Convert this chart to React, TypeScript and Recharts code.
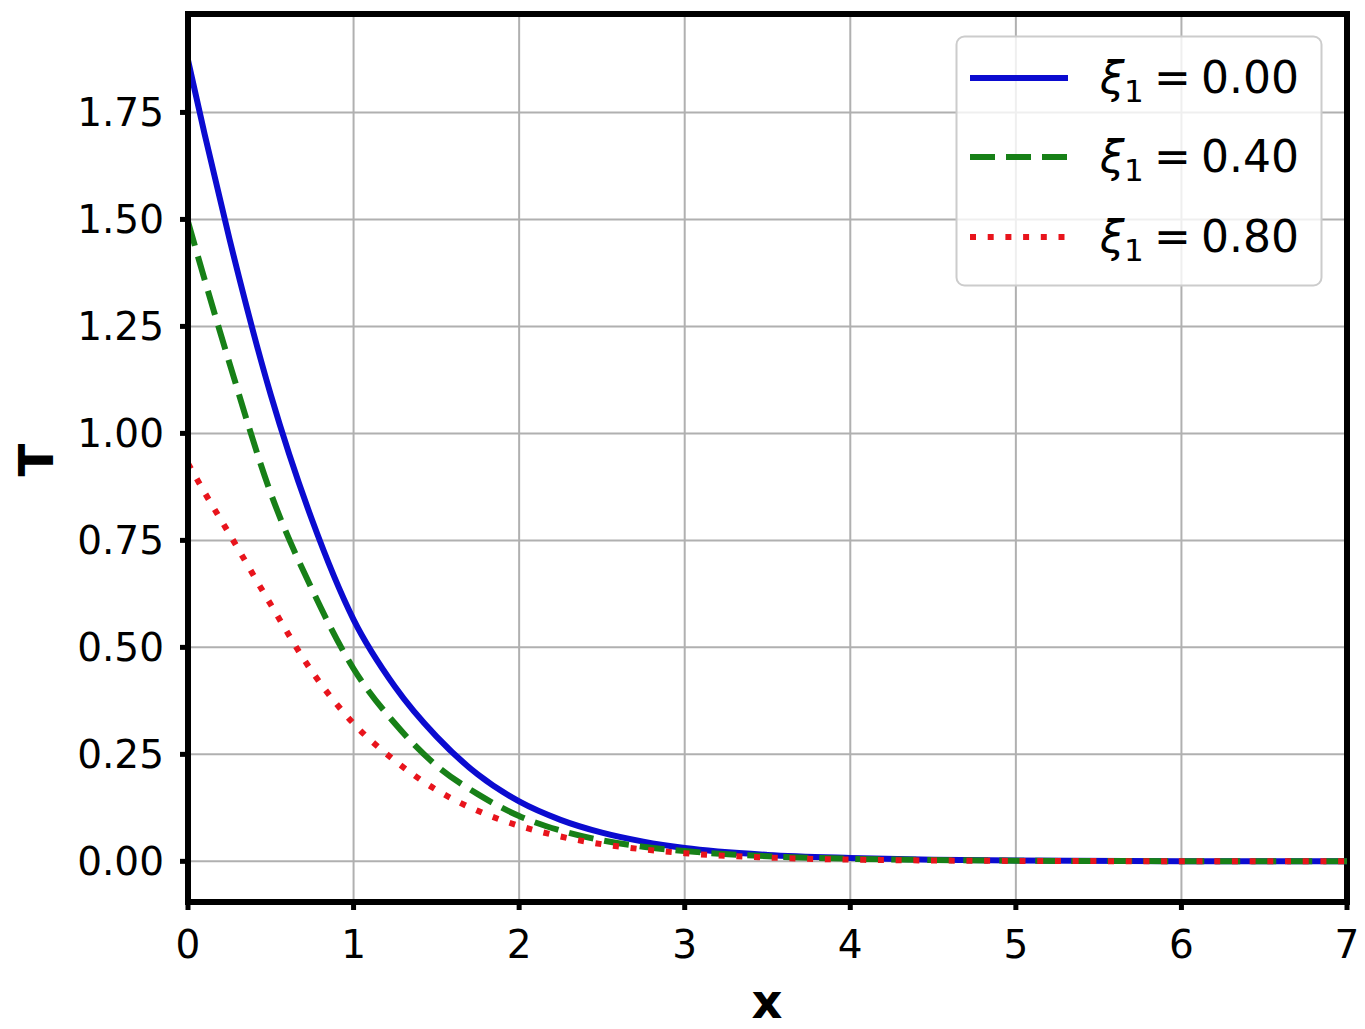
import React from 'react';
import { LineChart, Line, XAxis, YAxis, CartesianGrid, ReferenceArea, Legend } from 'recharts';

const xValues = [0, 0.1, 0.25, 0.5, 0.75, 1.0, 1.25, 1.5, 1.75, 2.0, 2.25, 2.5, 2.75, 3.0, 3.5, 4.0, 4.5, 5.0, 6.0, 7.0];
const xi000 = [1.872, 1.70, 1.455, 1.09, 0.797, 0.565, 0.408, 0.292, 0.203, 0.140, 0.097, 0.067, 0.046, 0.031, 0.015, 0.008, 0.004, 0.002, 0.0005, 0.0001];
const xi040 = [1.495, 1.36, 1.165, 0.86, 0.635, 0.45, 0.322, 0.224, 0.157, 0.106, 0.072, 0.049, 0.034, 0.024, 0.012, 0.006, 0.003, 0.0015, 0.0004, 0.0001];
const xi080 = [0.93, 0.862, 0.765, 0.60, 0.443, 0.322, 0.235, 0.167, 0.118, 0.083, 0.058, 0.040, 0.028, 0.019, 0.009, 0.004, 0.002, 0.001, 0.0003, 0.0001];

const seriesLabels = ['0.00', '0.40', '0.80'];
const xTicks = [0, 1, 2, 3, 4, 5, 6, 7];
const yTicks = [0, 0.25, 0.5, 0.75, 1.0, 1.25, 1.5, 1.75];
const xDomain = [0, 7];
const yDomain = [-0.095, 1.98];

const data = xValues.map((x, i) => ({ x, a: xi000[i], b: xi040[i], c: xi080[i] }));

const FONT = 'DejaVu Sans';
const colors = ['#0b0bd0', '#178017', '#e8141c'];
const dashes = [undefined, '25 11', '6 11.7'];

const XTick = (p: any) => (
  <text x={p.x} y={p.y} dy={46} textAnchor="middle" fontFamily={FONT} fontSize={39} fill="#000">
    {p.payload.value}
  </text>
);

const YTick = (p: any) => (
  <text x={p.x} y={p.y} dy={14} textAnchor="end" fontFamily={FONT} fontSize={39} fill="#000">
    {Number(p.payload.value).toFixed(2)}
  </text>
);

const LegendBox = () => {
  const rows = [43, 122, 202];
  return (
    <svg width={368} height={252} style={{ display: 'block' }}>
      <rect x={1.5} y={1.5} width={365} height={249} rx={8} ry={8} fill="#ffffff" fillOpacity={0.8} stroke="#cccccc" strokeWidth={2} />
      {rows.map((ry, i) => (
        <g key={i}>
          <line x1={15} x2={113} y1={ry} y2={ry} stroke={colors[i]} strokeWidth={6} strokeDasharray={dashes[i]} />
          <text y={ry + 15} fontFamily={FONT} fontSize={44} fill="#000">
            <tspan x={145} fontStyle="italic">ξ</tspan>
            <tspan x={169} dy={9} fontSize={31}>1</tspan>
            <tspan x={199} dy={-9}>=</tspan>
            <tspan x={246}>{seriesLabels[i]}</tspan>
          </text>
        </g>
      ))}
    </svg>
  );
};

export default function App() {
  return (
    <div style={{ position: 'absolute', left: 0, top: 0, background: '#fff' }}>
      <LineChart width={1365} height={1029} data={data} margin={{ top: 14, right: 18, bottom: 67, left: 48 }}>
        <CartesianGrid stroke="#b0b0b0" strokeWidth={2} />
        <XAxis
          dataKey="x"
          type="number"
          domain={xDomain}
          ticks={xTicks}
          height={60}
          tickSize={8}
          tickMargin={2}
          tick={<XTick />}
          axisLine={{ stroke: '#000', strokeWidth: 6 }}
          tickLine={{ stroke: '#000', strokeWidth: 5 }}
          allowDataOverflow
          label={() => (
            <text x={767} y={1018} textAnchor="middle" fontFamily={FONT} fontWeight="bold" fontSize={48} fill="#000">x</text>
          )}
        />
        <YAxis
          type="number"
          domain={yDomain}
          ticks={yTicks}
          width={140}
          tickSize={8}
          tickMargin={16}
          tick={<YTick />}
          axisLine={{ stroke: '#000', strokeWidth: 6 }}
          tickLine={{ stroke: '#000', strokeWidth: 5 }}
          allowDataOverflow
          label={() => (
            <text x={53} y={460} transform="rotate(-90, 53, 460)" textAnchor="middle" fontFamily={FONT} fontWeight="bold" fontSize={48} fill="#000">T</text>
          )}
        />
        <Line type="monotone" dataKey="a" stroke={colors[0]} strokeWidth={6} dot={false} activeDot={false} isAnimationActive={false} />
        <Line type="monotone" dataKey="b" stroke={colors[1]} strokeWidth={6} strokeDasharray={dashes[1]} dot={false} activeDot={false} isAnimationActive={false} />
        <Line type="monotone" dataKey="c" stroke={colors[2]} strokeWidth={6} strokeDasharray={dashes[2]} dot={false} activeDot={false} isAnimationActive={false} />
        <ReferenceArea x1={xDomain[0]} x2={xDomain[1]} y1={yDomain[0]} y2={yDomain[1]} fill="none" stroke="#000" strokeWidth={6} ifOverflow="visible" />
        <Legend
          layout="horizontal"
          verticalAlign="middle"
          align="center"
          content={() => <LegendBox />}
          wrapperStyle={{ left: 955, top: 35, width: 368, height: 252, right: 'auto', bottom: 'auto' }}
        />
      </LineChart>
    </div>
  );
}
